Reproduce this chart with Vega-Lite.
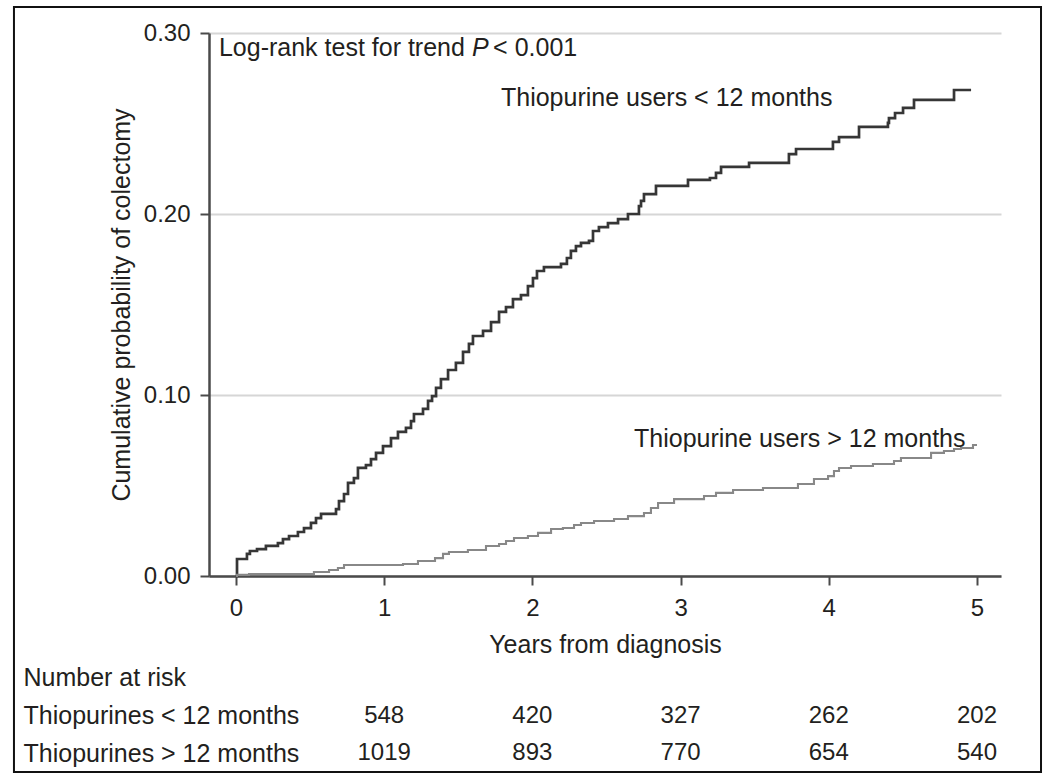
{
  "$schema": "https://vega.github.io/schema/vega-lite/v6.json",
  "background": "white",
  "padding": {"left": 12, "top": 5, "right": 0, "bottom": 0},
  "bounds": "flush",
  "spacing": 83,
  "config": {
    "font": "Liberation Sans",
    "view": {"stroke": null},
    "axis": {
      "labelFont": "Liberation Sans",
      "titleFont": "Liberation Sans",
      "labelFontSize": 24,
      "titleFontSize": 25,
      "labelColor": "#231f20",
      "titleColor": "#231f20",
      "titleFontWeight": "normal",
      "domainColor": "#4a4a4a",
      "domainWidth": 2.5,
      "tickColor": "#4a4a4a",
      "tickWidth": 2,
      "tickSize": 9
    },
    "text": {"font": "Liberation Sans", "fontSize": 25, "color": "#231f20"}
  },
  "datasets": {
    "km": [
      {"group": "Thiopurine users < 12 months", "years": 0, "prob": 0},
      {"group": "Thiopurine users < 12 months", "years": 0.007, "prob": 0.0094},
      {"group": "Thiopurine users < 12 months", "years": 0.074, "prob": 0.0122},
      {"group": "Thiopurine users < 12 months", "years": 0.094, "prob": 0.0138},
      {"group": "Thiopurine users < 12 months", "years": 0.142, "prob": 0.0149},
      {"group": "Thiopurine users < 12 months", "years": 0.202, "prob": 0.0166},
      {"group": "Thiopurine users < 12 months", "years": 0.283, "prob": 0.0182},
      {"group": "Thiopurine users < 12 months", "years": 0.317, "prob": 0.0204},
      {"group": "Thiopurine users < 12 months", "years": 0.358, "prob": 0.0221},
      {"group": "Thiopurine users < 12 months", "years": 0.418, "prob": 0.0243},
      {"group": "Thiopurine users < 12 months", "years": 0.459, "prob": 0.0265},
      {"group": "Thiopurine users < 12 months", "years": 0.506, "prob": 0.0293},
      {"group": "Thiopurine users < 12 months", "years": 0.54, "prob": 0.032},
      {"group": "Thiopurine users < 12 months", "years": 0.574, "prob": 0.0343},
      {"group": "Thiopurine users < 12 months", "years": 0.675, "prob": 0.037},
      {"group": "Thiopurine users < 12 months", "years": 0.695, "prob": 0.0414},
      {"group": "Thiopurine users < 12 months", "years": 0.729, "prob": 0.0453},
      {"group": "Thiopurine users < 12 months", "years": 0.756, "prob": 0.0514},
      {"group": "Thiopurine users < 12 months", "years": 0.796, "prob": 0.0541},
      {"group": "Thiopurine users < 12 months", "years": 0.823, "prob": 0.0597},
      {"group": "Thiopurine users < 12 months", "years": 0.877, "prob": 0.0613},
      {"group": "Thiopurine users < 12 months", "years": 0.911, "prob": 0.0646},
      {"group": "Thiopurine users < 12 months", "years": 0.945, "prob": 0.068},
      {"group": "Thiopurine users < 12 months", "years": 0.992, "prob": 0.0718},
      {"group": "Thiopurine users < 12 months", "years": 1.046, "prob": 0.0762},
      {"group": "Thiopurine users < 12 months", "years": 1.093, "prob": 0.0796},
      {"group": "Thiopurine users < 12 months", "years": 1.147, "prob": 0.0818},
      {"group": "Thiopurine users < 12 months", "years": 1.181, "prob": 0.0856},
      {"group": "Thiopurine users < 12 months", "years": 1.201, "prob": 0.0895},
      {"group": "Thiopurine users < 12 months", "years": 1.262, "prob": 0.0923},
      {"group": "Thiopurine users < 12 months", "years": 1.296, "prob": 0.0967},
      {"group": "Thiopurine users < 12 months", "years": 1.323, "prob": 0.0994},
      {"group": "Thiopurine users < 12 months", "years": 1.35, "prob": 0.1039},
      {"group": "Thiopurine users < 12 months", "years": 1.383, "prob": 0.1088},
      {"group": "Thiopurine users < 12 months", "years": 1.431, "prob": 0.1138},
      {"group": "Thiopurine users < 12 months", "years": 1.484, "prob": 0.1177},
      {"group": "Thiopurine users < 12 months", "years": 1.532, "prob": 0.1238},
      {"group": "Thiopurine users < 12 months", "years": 1.572, "prob": 0.1282},
      {"group": "Thiopurine users < 12 months", "years": 1.599, "prob": 0.1326},
      {"group": "Thiopurine users < 12 months", "years": 1.667, "prob": 0.1354},
      {"group": "Thiopurine users < 12 months", "years": 1.721, "prob": 0.1403},
      {"group": "Thiopurine users < 12 months", "years": 1.775, "prob": 0.1459},
      {"group": "Thiopurine users < 12 months", "years": 1.822, "prob": 0.1486},
      {"group": "Thiopurine users < 12 months", "years": 1.869, "prob": 0.153},
      {"group": "Thiopurine users < 12 months", "years": 1.923, "prob": 0.1552},
      {"group": "Thiopurine users < 12 months", "years": 1.97, "prob": 0.1602},
      {"group": "Thiopurine users < 12 months", "years": 2.004, "prob": 0.1646},
      {"group": "Thiopurine users < 12 months", "years": 2.031, "prob": 0.1685},
      {"group": "Thiopurine users < 12 months", "years": 2.078, "prob": 0.1707},
      {"group": "Thiopurine users < 12 months", "years": 2.193, "prob": 0.1724},
      {"group": "Thiopurine users < 12 months", "years": 2.233, "prob": 0.1757},
      {"group": "Thiopurine users < 12 months", "years": 2.26, "prob": 0.1796},
      {"group": "Thiopurine users < 12 months", "years": 2.294, "prob": 0.1823},
      {"group": "Thiopurine users < 12 months", "years": 2.328, "prob": 0.184},
      {"group": "Thiopurine users < 12 months", "years": 2.382, "prob": 0.1851},
      {"group": "Thiopurine users < 12 months", "years": 2.409, "prob": 0.1906},
      {"group": "Thiopurine users < 12 months", "years": 2.449, "prob": 0.1928},
      {"group": "Thiopurine users < 12 months", "years": 2.51, "prob": 0.195},
      {"group": "Thiopurine users < 12 months", "years": 2.578, "prob": 0.1972},
      {"group": "Thiopurine users < 12 months", "years": 2.645, "prob": 0.2},
      {"group": "Thiopurine users < 12 months", "years": 2.719, "prob": 0.2044},
      {"group": "Thiopurine users < 12 months", "years": 2.733, "prob": 0.2072},
      {"group": "Thiopurine users < 12 months", "years": 2.753, "prob": 0.211},
      {"group": "Thiopurine users < 12 months", "years": 2.834, "prob": 0.2155},
      {"group": "Thiopurine users < 12 months", "years": 3.05, "prob": 0.2188},
      {"group": "Thiopurine users < 12 months", "years": 3.198, "prob": 0.2199},
      {"group": "Thiopurine users < 12 months", "years": 3.239, "prob": 0.2227},
      {"group": "Thiopurine users < 12 months", "years": 3.273, "prob": 0.226},
      {"group": "Thiopurine users < 12 months", "years": 3.462, "prob": 0.2282},
      {"group": "Thiopurine users < 12 months", "years": 3.731, "prob": 0.2331},
      {"group": "Thiopurine users < 12 months", "years": 3.779, "prob": 0.2359},
      {"group": "Thiopurine users < 12 months", "years": 4.028, "prob": 0.2398},
      {"group": "Thiopurine users < 12 months", "years": 4.069, "prob": 0.2425},
      {"group": "Thiopurine users < 12 months", "years": 4.204, "prob": 0.2481},
      {"group": "Thiopurine users < 12 months", "years": 4.399, "prob": 0.2503},
      {"group": "Thiopurine users < 12 months", "years": 4.406, "prob": 0.253},
      {"group": "Thiopurine users < 12 months", "years": 4.447, "prob": 0.2558},
      {"group": "Thiopurine users < 12 months", "years": 4.501, "prob": 0.2586},
      {"group": "Thiopurine users < 12 months", "years": 4.575, "prob": 0.263},
      {"group": "Thiopurine users < 12 months", "years": 4.845, "prob": 0.2685},
      {"group": "Thiopurine users < 12 months", "years": 4.96, "prob": 0.2685},
      {"group": "Thiopurine users > 12 months", "years": 0, "prob": 0},
      {"group": "Thiopurine users > 12 months", "years": 0.007, "prob": 0.0006},
      {"group": "Thiopurine users > 12 months", "years": 0.088, "prob": 0.0011},
      {"group": "Thiopurine users > 12 months", "years": 0.526, "prob": 0.0022},
      {"group": "Thiopurine users > 12 months", "years": 0.628, "prob": 0.0033},
      {"group": "Thiopurine users > 12 months", "years": 0.688, "prob": 0.0044},
      {"group": "Thiopurine users > 12 months", "years": 0.729, "prob": 0.0061},
      {"group": "Thiopurine users > 12 months", "years": 1.127, "prob": 0.0066},
      {"group": "Thiopurine users > 12 months", "years": 1.228, "prob": 0.0083},
      {"group": "Thiopurine users > 12 months", "years": 1.343, "prob": 0.0099},
      {"group": "Thiopurine users > 12 months", "years": 1.397, "prob": 0.0122},
      {"group": "Thiopurine users > 12 months", "years": 1.437, "prob": 0.0133},
      {"group": "Thiopurine users > 12 months", "years": 1.565, "prob": 0.0144},
      {"group": "Thiopurine users > 12 months", "years": 1.687, "prob": 0.0166},
      {"group": "Thiopurine users > 12 months", "years": 1.775, "prob": 0.0177},
      {"group": "Thiopurine users > 12 months", "years": 1.822, "prob": 0.0193},
      {"group": "Thiopurine users > 12 months", "years": 1.876, "prob": 0.021},
      {"group": "Thiopurine users > 12 months", "years": 1.97, "prob": 0.0221},
      {"group": "Thiopurine users > 12 months", "years": 2.038, "prob": 0.0238},
      {"group": "Thiopurine users > 12 months", "years": 2.126, "prob": 0.026},
      {"group": "Thiopurine users > 12 months", "years": 2.206, "prob": 0.0265},
      {"group": "Thiopurine users > 12 months", "years": 2.281, "prob": 0.0282},
      {"group": "Thiopurine users > 12 months", "years": 2.328, "prob": 0.0293},
      {"group": "Thiopurine users > 12 months", "years": 2.416, "prob": 0.0304},
      {"group": "Thiopurine users > 12 months", "years": 2.551, "prob": 0.0315},
      {"group": "Thiopurine users > 12 months", "years": 2.645, "prob": 0.0331},
      {"group": "Thiopurine users > 12 months", "years": 2.753, "prob": 0.0348},
      {"group": "Thiopurine users > 12 months", "years": 2.8, "prob": 0.0376},
      {"group": "Thiopurine users > 12 months", "years": 2.848, "prob": 0.0403},
      {"group": "Thiopurine users > 12 months", "years": 2.956, "prob": 0.0425},
      {"group": "Thiopurine users > 12 months", "years": 3.158, "prob": 0.0442},
      {"group": "Thiopurine users > 12 months", "years": 3.239, "prob": 0.0459},
      {"group": "Thiopurine users > 12 months", "years": 3.354, "prob": 0.0475},
      {"group": "Thiopurine users > 12 months", "years": 3.556, "prob": 0.0486},
      {"group": "Thiopurine users > 12 months", "years": 3.792, "prob": 0.0508},
      {"group": "Thiopurine users > 12 months", "years": 3.9, "prob": 0.0536},
      {"group": "Thiopurine users > 12 months", "years": 3.995, "prob": 0.0552},
      {"group": "Thiopurine users > 12 months", "years": 4.035, "prob": 0.058},
      {"group": "Thiopurine users > 12 months", "years": 4.069, "prob": 0.0597},
      {"group": "Thiopurine users > 12 months", "years": 4.15, "prob": 0.0608},
      {"group": "Thiopurine users > 12 months", "years": 4.298, "prob": 0.0619},
      {"group": "Thiopurine users > 12 months", "years": 4.44, "prob": 0.0635},
      {"group": "Thiopurine users > 12 months", "years": 4.487, "prob": 0.0652},
      {"group": "Thiopurine users > 12 months", "years": 4.69, "prob": 0.068},
      {"group": "Thiopurine users > 12 months", "years": 4.777, "prob": 0.0691},
      {"group": "Thiopurine users > 12 months", "years": 4.845, "prob": 0.0702},
      {"group": "Thiopurine users > 12 months", "years": 4.892, "prob": 0.0707},
      {"group": "Thiopurine users > 12 months", "years": 4.973, "prob": 0.0724},
      {"group": "Thiopurine users > 12 months", "years": 4.993, "prob": 0.0729}
    ],
    "risk": [
      {"row": "Thiopurines < 12 months", "years": 1, "n": 548},
      {"row": "Thiopurines < 12 months", "years": 2, "n": 420},
      {"row": "Thiopurines < 12 months", "years": 3, "n": 327},
      {"row": "Thiopurines < 12 months", "years": 4, "n": 262},
      {"row": "Thiopurines < 12 months", "years": 5, "n": 202},
      {"row": "Thiopurines > 12 months", "years": 1, "n": 1019},
      {"row": "Thiopurines > 12 months", "years": 2, "n": 893},
      {"row": "Thiopurines > 12 months", "years": 3, "n": 770},
      {"row": "Thiopurines > 12 months", "years": 4, "n": 654},
      {"row": "Thiopurines > 12 months", "years": 5, "n": 540}
    ]
  },
  "vconcat": [
    {
      "width": 792,
      "height": 543,
      "layer": [
        {
          "data": {"name": "km"},
          "mark": {"type": "line", "interpolate": "step-after", "strokeJoin": "miter"},
          "encoding": {
            "x": {
              "field": "years",
              "type": "quantitative",
              "title": "Years from diagnosis",
              "scale": {"domain": [-0.182, 5.162], "nice": false, "zero": false},
              "axis": {"values": [0, 1, 2, 3, 4, 5], "format": "d", "grid": false, "labelPadding": 11, "titlePadding": 12}
            },
            "y": {
              "field": "prob",
              "type": "quantitative",
              "title": "Cumulative probability of colectomy",
              "scale": {"domain": [0, 0.3], "nice": false, "zero": false},
              "axis": {"values": [0, 0.1, 0.2, 0.3], "format": ".2f", "grid": true, "gridColor": "#d6d6d6", "gridWidth": 2, "labelPadding": 10, "titlePadding": 9}
            },
            "color": {
              "field": "group",
              "type": "nominal",
              "scale": {"domain": ["Thiopurine users < 12 months", "Thiopurine users > 12 months"], "range": ["#363636", "#888888"]},
              "legend": null
            },
            "strokeWidth": {
              "field": "group",
              "type": "nominal",
              "scale": {"domain": ["Thiopurine users < 12 months", "Thiopurine users > 12 months"], "range": [2.7, 2.1]},
              "legend": null
            }
          }
        },
        {
          "data": {"values": [{}]},
          "mark": {"type": "rect", "fill": null, "stroke": "#111111", "strokeWidth": 2, "clip": false},
          "encoding": {
            "x": {"datum": -1.498, "type": "quantitative", "title": "Years from diagnosis"},
            "x2": {"datum": 5.432},
            "y": {"datum": 0.3144, "type": "quantitative", "title": "Cumulative probability of colectomy"},
            "y2": {"datum": -0.1083}
          }
        },
        {
          "data": {"values": [{}]},
          "mark": {"type": "text", "align": "left", "baseline": "middle", "text": "Log-rank test for trend"},
          "encoding": {
            "x": {"datum": -0.115, "type": "quantitative", "title": "Years from diagnosis"},
            "y": {"datum": 0.2917, "type": "quantitative", "title": "Cumulative probability of colectomy"}
          }
        },
        {
          "data": {"values": [{}]},
          "mark": {"type": "text", "align": "left", "baseline": "middle", "fontStyle": "italic", "text": "P"},
          "encoding": {
            "x": {"datum": 1.592, "type": "quantitative", "title": "Years from diagnosis"},
            "y": {"datum": 0.2917, "type": "quantitative", "title": "Cumulative probability of colectomy"}
          }
        },
        {
          "data": {"values": [{}]},
          "mark": {"type": "text", "align": "left", "baseline": "middle", "text": "< 0.001"},
          "encoding": {
            "x": {"datum": 1.735, "type": "quantitative", "title": "Years from diagnosis"},
            "y": {"datum": 0.2917, "type": "quantitative", "title": "Cumulative probability of colectomy"}
          }
        },
        {
          "data": {"values": [{}]},
          "mark": {"type": "text", "align": "left", "baseline": "middle", "text": "Thiopurine users < 12 months"},
          "encoding": {
            "x": {"datum": 1.788, "type": "quantitative", "title": "Years from diagnosis"},
            "y": {"datum": 0.2641, "type": "quantitative", "title": "Cumulative probability of colectomy"}
          }
        },
        {
          "data": {"values": [{}]},
          "mark": {"type": "text", "align": "left", "baseline": "middle", "text": "Thiopurine users > 12 months"},
          "encoding": {
            "x": {"datum": 2.686, "type": "quantitative", "title": "Years from diagnosis"},
            "y": {"datum": 0.0757, "type": "quantitative", "title": "Cumulative probability of colectomy"}
          }
        }
      ]
    },
    {
      "width": 792,
      "height": 113,
      "data": {"name": "risk"},
      "mark": {"type": "text", "align": "center", "baseline": "middle", "fontSize": 24},
      "encoding": {
        "x": {"field": "years", "type": "quantitative", "scale": {"domain": [-0.182, 5.162], "nice": false, "zero": false}, "axis": null},
        "y": {
          "field": "row",
          "type": "nominal",
          "scale": {"domain": ["Number at risk", "Thiopurines < 12 months", "Thiopurines > 12 months"], "paddingInner": 0, "paddingOuter": 0},
          "axis": {"title": null, "domain": false, "ticks": false, "labelAlign": "left", "labelPadding": 186, "labelFontSize": 25, "labelLimit": 0}
        },
        "text": {"field": "n", "type": "quantitative", "format": "d"}
      }
    }
  ]
}
